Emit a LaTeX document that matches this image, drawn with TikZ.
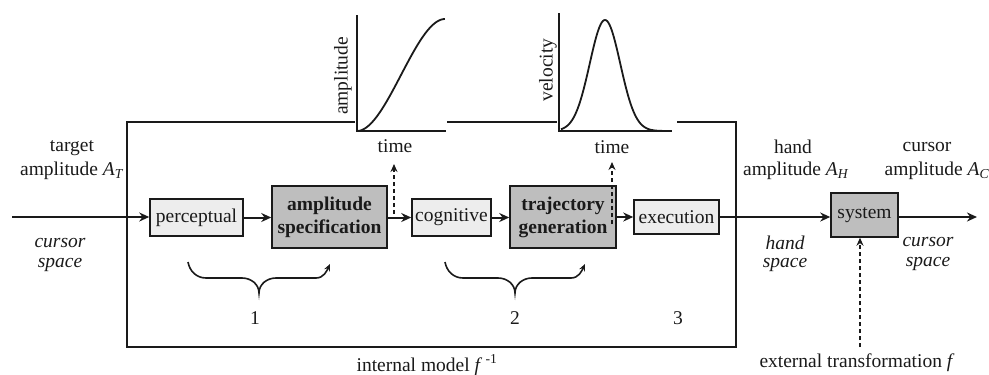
\documentclass[tikz,border=0pt]{standalone}
\usepackage{fontspec}
\setmainfont{Liberation Serif}
\usetikzlibrary{arrows.meta}
\definecolor{lightfill}{HTML}{EDEDED}
\definecolor{darkfill}{HTML}{BEBEBE}
\definecolor{ink}{HTML}{1A1A1A}
\begin{document}
\begin{tikzpicture}[x=1pt,y=-1pt,
  font=\fontsize{19.5}{23}\selectfont, color=ink,
  lbox/.style={draw=ink, line width=1.5pt, fill=lightfill, inner sep=0pt, align=center},
  dbox/.style={draw=ink, line width=1.5pt, fill=darkfill, inner sep=0pt, align=center, font=\fontsize{19.5}{23}\selectfont\bfseries},
  sig/.style={line width=2pt, -{Stealth[length=10pt,width=9pt]}},
  dsh/.style={line width=1.4pt, dash pattern=on 4pt off 3pt, -{Stealth[length=8pt,width=7pt]}},
  brc/.style={line width=1.6pt, -{Stealth[length=7pt,width=6pt]}},
  lab/.style={inner sep=0pt},
  itl/.style={inner sep=0pt, font=\fontsize{19.5}{23}\selectfont\itshape}
]
\useasboundingbox (0,0) rectangle (989,375);

% main box with gaps for the graphs
\draw[line width=1.8pt] (355,122) -- (127,122) -- (127,347) -- (736,347) -- (736,122) -- (677,122);
\draw[line width=1.8pt] (447,122) -- (557,122);

% graph 1
\draw[line width=1.8pt] (357,15) -- (357,131) -- (446,131);
\draw[line width=1.8pt] plot[domain=0:1, samples=60] ({357+88*\x}, {131-112*(3*\x*\x-2*\x*\x*\x)});
\node[lab, rotate=90] (gl1) at (343,76) {amplitude};
\node[lab] (t1) at (395,146) {time};

% graph 2
\draw[line width=1.8pt] (559,13) -- (559,131) -- (672,131);
\draw[line width=1.8pt] plot[domain=561:670, samples=100] (\x, {131-111*exp(-((\x-605)/21.6)*((\x-605)/21.6))});
\node[lab, rotate=90] (gl2) at (548,70) {velocity};
\node[lab] (t2) at (612,147) {time};

% boxes
\node[lbox, minimum width=93pt, minimum height=37pt] (perc) at (196.5,217.5) {perceptual};
\node[dbox, minimum width=115pt, minimum height=62pt] (amp) at (329.5,217) {amplitude\\specification};
\node[lbox, minimum width=79pt, minimum height=37pt] (cog) at (451.5,217.5) {cognitive};
\node[dbox, minimum width=106pt, minimum height=62pt] (traj) at (563,217) {trajectory\\generation};
\node[lbox, minimum width=85pt, minimum height=34pt] (exec) at (676.5,217) {execution};
\node[dbox, minimum width=67pt, minimum height=44pt, font=\fontsize{19.5}{23}\selectfont] (sys) at (864.5,215) {system};

% signal path
\coordinate (in) at (12,217);
\coordinate (out) at (977,217);
\draw[sig] (in) -- (in -| perc.west);
\draw[sig] (perc.east) -- (perc.east -| amp.west);
\draw[sig] (amp.east |- cog.west) -- (cog.west);
\draw[sig] (cog.east) -- (cog.east -| traj.west);
\draw[sig] (traj.east |- exec.west) -- (exec.west);
\draw[sig] (exec.east) -- (exec.east -| sys.west);
\draw[sig] (sys.east |- out) -- (out);

% dashed arrows to graphs
\coordinate (d1) at (394,214);
\coordinate (d1t) at (394,164);
\coordinate (d2) at (612,224);
\coordinate (d2t) at (612,162);
\draw[dsh] (d1) -- (d1t);
\draw[dsh] (d2) -- (d2t);
\coordinate (ext) at (860,347);
\draw[dsh] (ext) -- (ext |- sys.south);

% braces
\draw[brc] (188,262) to[out=-80,in=180] (206,278) -- (242,278) to[out=0,in=90] (259,293) to[out=90,in=180] (276,278) -- (316,278) to[out=0,in=-115] (330,264);
\draw[brc] (445,262) to[out=-80,in=180] (463,278) -- (498,278) to[out=0,in=90] (515,293) to[out=90,in=180] (532,278) -- (571,278) to[out=0,in=-115] (585,264);
\node[lab] (n1) at (255,318) {1};
\node[lab] (n2) at (515,318) {2};
\node[lab] (n3) at (678,318) {3};

% labels
\node[lab] (tg1) at (72,148) {target};
\node[lab] (tg2) at (72,171) {amplitude \textit{A}\textsubscript{\textit{T}}};
\node[itl] (cs1) at (60,243) {cursor};
\node[itl] (cs2) at (60,265) {space};
\node[lab] (ha1) at (793,147) {hand};
\node[lab] (ha2) at (796,171) {amplitude \textit{A}\textsubscript{\textit{H}}};
\node[lab] (ca1) at (927,147) {cursor};
\node[lab] (ca2) at (937,171) {amplitude \textit{A}\textsubscript{\textit{C}}};
\node[itl] (hs1) at (785,243) {hand};
\node[itl] (hs2) at (785,265) {space};
\node[itl] (cs3) at (928,242) {cursor};
\node[itl] (cs4) at (928,264) {space};
\node[lab] (im) at (427,365) {internal model \textit{f}\,\textsuperscript{-1}};
\node[lab] (et) at (857,363) {external transformation \textit{f}};
\end{tikzpicture}
\end{document}
